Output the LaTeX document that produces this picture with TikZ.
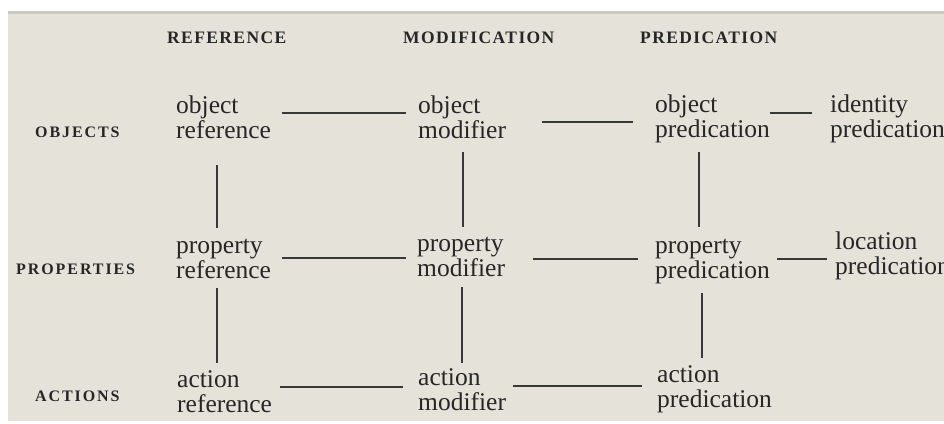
\documentclass[tikz,border=0pt]{standalone}
\usepackage{fontspec}
\setmainfont{Liberation Serif}
\definecolor{paper}{HTML}{E4E2D9}
\definecolor{rim}{HTML}{C9C9C5}
\definecolor{ink}{HTML}{262626}
\definecolor{rule}{HTML}{383838}
\tikzset{
  % two-line terms: the base anchor sits on the second line's baseline
  term/.style={anchor=base west, align=left, inner sep=0pt, text=ink,
    font=\fontsize{25.5}{25}\selectfont},
  colhead/.style={anchor=base west, inner sep=0pt, text=ink,
    font=\fontsize{17.5}{18}\selectfont\bfseries\addfontfeature{LetterSpace=8}},
  rowhead/.style={anchor=base west, inner sep=0pt, text=ink,
    font=\fontsize{16}{16}\selectfont\bfseries\addfontfeature{LetterSpace=12}},
  link/.style={draw=rule, line width=1.8pt}
}
\begin{document}
\begin{tikzpicture}[x=1pt, y=-1pt]
  % page and paper
  \useasboundingbox (0,0) rectangle (944,423);
  \fill[white] (0,0) rectangle (944,423);
  \fill[paper] (8,12) rectangle (944,421);
  \fill[rim] (8,11) rectangle (944,14);

  % column headings
  \node[colhead] (hRef) at (167,43) {REFERENCE};
  \node[colhead] (hMod) at (403,43) {MODIFICATION};
  \node[colhead] (hPred) at (640,43) {PREDICATION};

  % row headings
  \node[rowhead] (hObj) at (35,137) {OBJECTS};
  \node[rowhead] (hProp) at (16,274) {PROPERTIES};
  \node[rowhead] (hAct) at (35,401) {ACTIONS};

  % grid of terms
  \node[term] (or) at (176,138) {object\\reference};
  \node[term] (om) at (418,138) {object\\modifier};
  \node[term] (op) at (655,137) {object\\predication};
  \node[term] (ip) at (830,137) {identity\\predication};

  \node[term] (pr) at (176,278) {property\\reference};
  \node[term] (pm) at (417,276) {property\\modifier};
  \node[term] (pp) at (655,278) {property\\predication};
  \node[term] (lp) at (835,274) {location\\predication};

  \node[term] (ar) at (177,412) {action\\reference};
  \node[term] (am) at (418,410) {action\\modifier};
  \node[term] (ap) at (657,407) {action\\predication};

  % horizontal connectors
  \draw[link] ([shift={(106,-25)}]or.base west) -- ([shift={(-12,-25)}]om.base west);
  \draw[link] ([shift={(124,-16)}]om.base west) -- ([shift={(-22,-15)}]op.base west);
  \draw[link] ([shift={(115,-24)}]op.base west) -- ([shift={(-18,-24)}]ip.base west);
  \draw[link] ([shift={(106,-20)}]pr.base west) -- ([shift={(-11,-18)}]pm.base west);
  \draw[link] ([shift={(116,-17)}]pm.base west) -- ([shift={(-17,-19)}]pp.base west);
  \draw[link] ([shift={(122,-19)}]pp.base west) -- ([shift={(-8,-15)}]lp.base west);
  \draw[link] ([shift={(103,-25)}]ar.base west) -- ([shift={(-15,-23)}]am.base west);
  \draw[link] ([shift={(95,-24)}]am.base west) -- ([shift={(-15,-21)}]ap.base west);

  % vertical connectors
  \draw[link] ([shift={(41,27)}]or.base west) -- ([shift={(41,-50)}]pr.base west);
  \draw[link] ([shift={(45,14)}]om.base west) -- ([shift={(46,-49)}]pm.base west);
  \draw[link] ([shift={(44,15)}]op.base west) -- ([shift={(44,-51)}]pp.base west);
  \draw[link] ([shift={(41,10)}]pr.base west) -- ([shift={(40,-49)}]ar.base west);
  \draw[link] ([shift={(45,11)}]pm.base west) -- ([shift={(44,-47)}]am.base west);
  \draw[link] ([shift={(47,15)}]pp.base west) -- ([shift={(45,-49)}]ap.base west);
\end{tikzpicture}
\end{document}
